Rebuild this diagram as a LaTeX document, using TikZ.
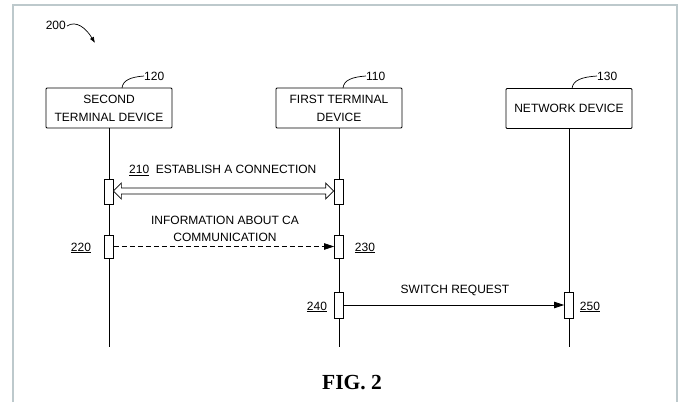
\documentclass[tikz,border=0pt]{standalone}
\usepackage{fontspec}
\setmainfont{Liberation Sans}
\newfontfamily\figfont{Liberation Serif}
\usetikzlibrary{arrows.meta,calc}
\definecolor{framec}{HTML}{BDC9CC}
\begin{document}
\begin{tikzpicture}[x=1pt,y=-1pt,
  lbl/.style={font=\fontsize{12}{17}\selectfont, inner sep=0pt},
  devbox/.style={draw, line width=0.8pt, minimum width=126pt, minimum height=40pt, align=center,
    font=\fontsize{12}{18}\selectfont, inner sep=0pt, rounded corners=1pt},
  actbox/.style={draw, fill=white, line width=0.7pt, minimum width=9pt, inner sep=0pt},
  life/.style={line width=0.8pt},
  lead/.style={line width=0.7pt},
  hollowarrow/.style={draw, fill=white, line width=0.7pt, line join=miter},
  frameline/.style={draw=framec, line width=2pt}
]
\useasboundingbox (0,0) rectangle (678,402);
\fill[white] (0,0) rectangle (678,402);
\draw[frameline] (13,402) -- (13,5) -- (677,5) -- (677,402);

% 200 label
\node[lbl, anchor=east] (l200) at (66,25) {200};
\coordinate (a200) at (95,43);
\draw[lead, -{Latex[length=6pt,width=4.5pt]}] (l200.east) ++(1,1) .. controls (76,20) and (86,28) .. (a200);

% device boxes
\node[devbox] (s) at (109,108) {SECOND\\TERMINAL DEVICE};
\node[devbox] (f) at (339,108) {FIRST TERMINAL\\DEVICE};
\node[devbox] (n) at (569,108.5) {NETWORK DEVICE};

% reference numerals with leaders
\node[lbl, anchor=west] (l120) at (144,76) {120};
\node[lbl, anchor=west] (l110) at (366,76) {110};
\node[lbl, anchor=west] (l130) at (597,76) {130};
\draw[lead] (122,88) .. controls (123,80) and (131,77) .. (l120.west);
\draw[lead] (343,88) .. controls (344,80) and (352,77) .. (l110.west);
\draw[lead] (572,88.5) .. controls (573,80) and (582,77) .. (l130.west);

% lifelines
\path (s.south) ++(0,219) coordinate (sE);
\path (f.south) ++(0,219) coordinate (fE);
\path (n.south) ++(0,218.5) coordinate (nE);
\draw[life] (s.south) -- (sE);
\draw[life] (f.south) -- (fE);
\draw[life] (n.south) -- (nE);

% activation boxes
\node[actbox, minimum height=25pt] (a210) at (108.5,191.5) {};
\node[actbox, minimum height=25pt] (b210) at (338.5,191.5) {};
\node[actbox, minimum height=23pt] (a220) at (109,246.5) {};
\node[actbox, minimum height=23pt] (a230) at (339,246.5) {};
\node[actbox, minimum height=26pt] (a240) at (339,305) {};
\node[actbox, minimum height=26pt] (a250) at (569,305) {};

% messages
\coordinate (dL) at ($(a210.east)+(0,-0.5)$);
\coordinate (dR) at ($(b210.west)+(0,-0.5)$);
\draw[hollowarrow] (dL) -- ($(dL)+(8,-8)$) -- ($(dL)+(8,-3)$) -- ($(dR)+(-8,-3)$) -- ($(dR)+(-8,-8)$)
  -- (dR) -- ($(dR)+(-8,8)$) -- ($(dR)+(-8,3)$) -- ($(dL)+(8,3)$) -- ($(dL)+(8,8)$) -- cycle;
\draw[line width=0.8pt, dash pattern=on 5pt off 3pt, -{Triangle[length=10pt,width=6.5pt]}] (a220.east) -- (a230.west);
\draw[line width=0.8pt, -{Triangle[length=10pt,width=6.5pt]}] (a240.east) -- (a250.west);

% message labels
\node[lbl, anchor=base west] (t210) at (129,173.5) {\underline{210}\ \ ESTABLISH A CONNECTION};
\node[lbl, align=center] (tinfo) at (225,229) {INFORMATION ABOUT CA\\COMMUNICATION};
\node[lbl, anchor=base] (tsw) at (455,293.5) {SWITCH REQUEST};

% step numerals
\node[lbl, anchor=base] (l220) at (81,251) {\underline{220}};
\node[lbl, anchor=base] (l230) at (365,251) {\underline{230}};
\node[lbl, anchor=base] (l240) at (317,310) {\underline{240}};
\node[lbl, anchor=base] (l250) at (590,310) {\underline{250}};

% caption
\node[font=\figfont\bfseries\fontsize{21.5}{24}\selectfont, inner sep=0pt] (fig) at (352,383) {FIG. 2};
\end{tikzpicture}
\end{document}
